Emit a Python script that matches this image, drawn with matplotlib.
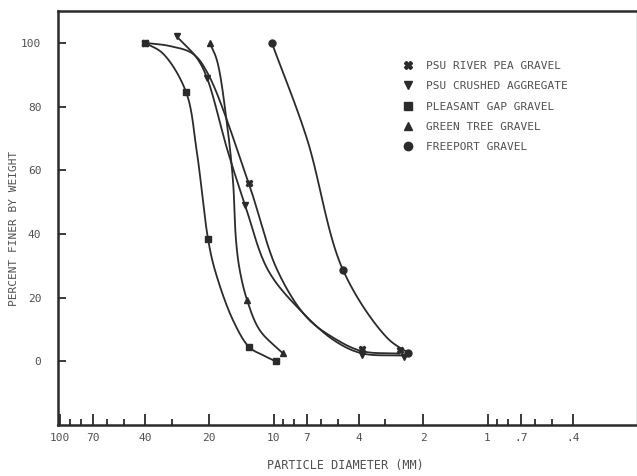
import numpy as np
import matplotlib
matplotlib.use('Agg')
import matplotlib.pyplot as plt
from matplotlib.lines import Line2D

plt.rcParams['font.family'] = 'DejaVu Sans Mono'

INK = '#2b2b2b'
TEXT = '#505050'

# sieve results (particle diameter in mm, percent finer by weight)
pea_x = [40, 13.1, 3.87, 2.57]
pea_y = [100, 56, 4, 3.4]
crushed_x = [28.4, 20.5, 13.6, 3.87, 2.46]
crushed_y = [102, 89, 49, 2, 1.3]
pleasant_x = [40, 25.7, 20.3, 13.0, 9.8]
pleasant_y = [100, 84.6, 38.5, 4.4, 0]
green_x = [19.9, 13.3, 9.06]
green_y = [100, 19.1, 2.5]
freeport_x = [10.2, 4.75, 2.36]
freeport_y = [100, 28.8, 2.7]

# hand-fitted gradation curves drawn through each set
pea_cx = [40, 30.6, 23.9, 20.3, 13.1, 9.6, 7.0, 5.2, 3.87, 2.57]
pea_cy = [100, 99, 96.6, 90.3, 56, 28.5, 13.8, 7.2, 3.2, 2.4]
crushed_cx = [28.4, 22.9, 20.5, 16.4, 13.6, 10.6, 7.5, 5.2, 3.87, 2.46]
crushed_cy = [102, 95.3, 89, 66, 49, 28.5, 16, 6.5, 2.5, 1.8]
pleasant_cx = [40, 32.9, 25.7, 22.9, 20.3, 18.8, 15.5, 13.0, 11.2, 9.8]
pleasant_cy = [100, 96.6, 84.6, 66, 38.6, 28.5, 12.9, 4.4, 1.9, 0]
green_cx = [19.9, 18.4, 16.6, 15.5, 15.0, 14.4, 13.3, 11.6, 9.06]
green_cy = [100, 94.4, 75.5, 56.7, 37.9, 28.5, 19.1, 9.7, 2.5]
freeport_cx = [10.2, 7.0, 4.75, 2.96, 2.36]
freeport_cy = [100, 70, 28.8, 7.5, 2.7]

labels = ['PSU RIVER PEA GRAVEL', 'PSU CRUSHED AGGREGATE',
          'PLEASANT GAP GRAVEL', 'GREEN TREE GRAVEL', 'FREEPORT GRAVEL']
markers = ['X', 'v', 's', '^', 'o']

major_ticks = [100, 70, 40, 20, 10, 7, 4, 2, 1, 0.7, 0.4]
major_labels = ['100', '70', '40', '20', '10', '7', '4', '2', '1', '.7', '.4']
minor_ticks = [90, 80, 60, 50, 30, 9, 8, 6, 5, 3, 0.9, 0.8, 0.6, 0.5]
y_ticks = [0, 20, 40, 60, 80, 100]


def smooth(xs, ys, n=30):
    # centripetal Catmull-Rom, worked out with log-x scaled like the page
    k = 67.0
    pts = np.column_stack([np.log10(xs) * k, ys])
    ext = np.vstack([2 * pts[0] - pts[1], pts, 2 * pts[-1] - pts[-2]])
    out = []
    for i in range(len(pts) - 1):
        p0, p1, p2, p3 = ext[i:i + 4]
        t0 = 0.0
        t1 = t0 + np.linalg.norm(p1 - p0) ** 0.5
        t2 = t1 + np.linalg.norm(p2 - p1) ** 0.5
        t3 = t2 + np.linalg.norm(p3 - p2) ** 0.5
        t = np.linspace(t1, t2, n)[:, None]
        a1 = (t1 - t) / (t1 - t0) * p0 + (t - t0) / (t1 - t0) * p1
        a2 = (t2 - t) / (t2 - t1) * p1 + (t - t1) / (t2 - t1) * p2
        a3 = (t3 - t) / (t3 - t2) * p2 + (t - t2) / (t3 - t2) * p3
        b1 = (t2 - t) / (t2 - t0) * a1 + (t - t0) / (t2 - t0) * a2
        b2 = (t3 - t) / (t3 - t1) * a2 + (t - t1) / (t3 - t1) * a3
        c = (t2 - t) / (t2 - t1) * b1 + (t - t1) / (t2 - t1) * b2
        out.append(c)
    c = np.vstack(out)
    return 10 ** (c[:, 0] / k), c[:, 1]


fig = plt.figure(figsize=(6.37, 4.76), dpi=100)
ax = fig.add_axes([58 / 637, 51 / 476, 579 / 637, 414 / 476])

curves = [(pea_cx, pea_cy), (crushed_cx, crushed_cy), (pleasant_cx, pleasant_cy),
          (green_cx, green_cy), (freeport_cx, freeport_cy)]
points = [(pea_x, pea_y), (crushed_x, crushed_y), (pleasant_x, pleasant_y),
          (green_x, green_y), (freeport_x, freeport_y)]

for (cx, cy) in curves:
    sx, sy = smooth(cx, cy)
    ax.plot(sx, sy, color=INK, linewidth=1.3, solid_capstyle='round')

for (px, py), m in zip(points, markers):
    ax.plot(px, py, linestyle='none', marker=m, markersize=5, color=INK)

ax.set_xscale('log')
ax.set_xlim(102, 0.2)
ax.set_ylim(-20, 110)

ax.set_xticks(major_ticks)
ax.set_xticklabels(major_labels)
ax.set_xticks(minor_ticks, minor=True)
ax.xaxis.set_minor_formatter(matplotlib.ticker.NullFormatter())
ax.set_yticks(y_ticks)
ax.set_yticklabels([str(v) for v in y_ticks])

ax.tick_params(axis='x', which='major', direction='in', length=8, width=1.3,
               color=INK, labelsize=8, labelcolor=TEXT, pad=6)
ax.tick_params(axis='x', which='minor', direction='in', length=4, width=1.3, color=INK)
ax.tick_params(axis='y', direction='in', length=6, width=1.3, color=INK,
               labelsize=8, labelcolor=TEXT, pad=12)

for side in ['left', 'bottom', 'top']:
    ax.spines[side].set_linewidth(1.8)
    ax.spines[side].set_color(INK)
ax.spines['right'].set_linewidth(1.0)
ax.spines['right'].set_color('#777777')

handles = [Line2D([], [], linestyle='none', marker=m, markersize=6, color=INK)
           for m in markers]
ax.legend(handles, labels, loc='upper left', bbox_to_anchor=(402 / 637, 1 - 61 / 476),
          bbox_transform=fig.transFigure, frameon=False, handlelength=1.0,
          handletextpad=1.15, labelspacing=0.93, borderpad=0, borderaxespad=0,
          prop={'size': 8}, labelcolor=TEXT)

fig.text(345 / 637, 1 - 466 / 476, 'PARTICLE DIAMETER (MM)', ha='center', va='center',
         fontsize=8.5, color=TEXT)
fig.text(14 / 637, 1 - 228 / 476, 'PERCENT FINER BY WEIGHT', ha='center', va='center',
         rotation=90, fontsize=8, color=TEXT)

fig.savefig('out.png', dpi=100)
